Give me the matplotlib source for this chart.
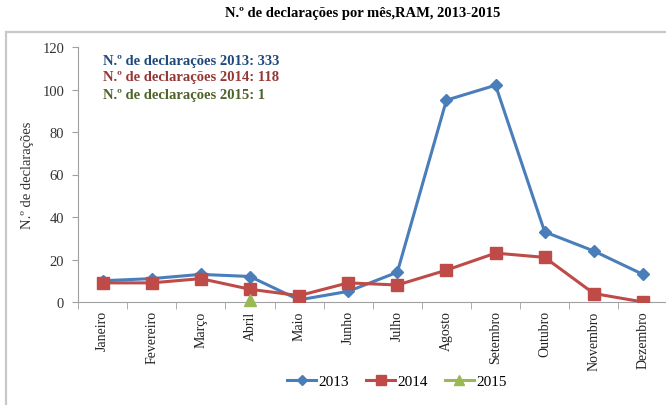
import matplotlib
matplotlib.use("Agg")
import matplotlib.pyplot as plt
from matplotlib.patches import Rectangle
from matplotlib.lines import Line2D
import numpy as np

months = ["Janeiro", "Fevereiro", "Março", "Abril", "Maio", "Junho", "Julho",
          "Agosto", "Setembro", "Outubro", "Novembro", "Dezembro"]
v2013 = [10, 11, 13, 12, 1, 5, 14, 95, 102, 33, 24, 13]
v2014 = [9, 9, 11, 6, 3, 9, 8, 15, 23, 21, 4, 0]
v2015_month = ["Abril"]
v2015 = [1]
yticks = [0, 20, 40, 60, 80, 100, 120]
title = "N.º de declarações por mês,RAM, 2013-2015"
ylabel = "N.º de declarações"
notes = ["N.º de declarações 2013: 333", "N.º de declarações 2014: 118", "N.º de declarações 2015: 1"]

plt.rcParams['font.family'] = ['Liberation Serif', 'DejaVu Serif']

W, H = 666, 406
fig = plt.figure(figsize=(W/100, H/100), dpi=100)

# outer chart frame
fig.patches.append(Rectangle((6/W, -0.1), 1.2, 1 - 33/H + 0.1, transform=fig.transFigure,
                             fill=False, edgecolor="#C8C8C8", lw=1.6))

left, right = 78/W, 667.5/W
bottom, top = 1 - 303/H, 1 - 48/H
ax = fig.add_axes([left, bottom, right - left, top - bottom])

x = np.arange(len(months))
c13, c14, c15 = "#4A7EBB", "#BE4B48", "#98B954"
ax.plot(x, v2013, color=c13, lw=2.2, marker="D", ms=6.5, mec=c13, mfc=c13, zorder=3)
ax.plot(x, v2014, color=c14, lw=2.2, marker="s", ms=8.5, mec=c14, mfc=c14, zorder=4)
x15 = [months.index(m) for m in v2015_month]
ax.plot(x15, v2015, color=c15, lw=2.2, marker="^", ms=8.5, mec=c15, mfc=c15, zorder=5, clip_on=False)

ax.set_xlim(-0.5, len(months) - 0.5)
ax.set_ylim(0, 120)
ax.set_yticks(yticks)
ax.set_yticklabels([str(t) for t in yticks], fontsize=10.5, color="#333333")
ax.set_xticks(x)
ax.set_xticklabels(months, rotation=90, fontsize=10, color="#222222", va="top")
ax.set_xticks(np.arange(-0.5, len(months), 1), minor=True)
ax.tick_params(axis="x", which="major", length=0, pad=6)
ax.tick_params(axis="x", which="minor", length=5, color="#A0A0A0", direction="out")
ax.tick_params(axis="y", length=4, color="#A0A0A0", direction="out", pad=6)

for s in ["top", "right"]:
    ax.spines[s].set_visible(False)
ax.spines["left"].set_color("#A0A0A0")
ax.spines["bottom"].set_color("#A0A0A0")
ax.patch.set_alpha(0)

fig.text(28/W, 1 - 175/H, ylabel, rotation=90, ha="center", va="center", fontsize=10.5, color="#333333")
fig.text(363/W, 1 - 14/H, title, ha="center", va="center", fontsize=10.5, fontweight="bold", color="black")

note_colors = ["#1F497D", "#953735", "#4F6228"]
for i, (t, c) in enumerate(zip(notes, note_colors)):
    fig.text(103/W, 1 - (61 + 17*i)/H, t, ha="left", va="center", fontsize=10.5,
             fontweight="bold", color=c)

handles = [Line2D([], [], color=c13, lw=2.2, marker="D", ms=5),
           Line2D([], [], color=c14, lw=2.2, marker="s", ms=7),
           Line2D([], [], color=c15, lw=2.2, marker="^", ms=7)]
fig.legend(handles, ["2013", "2014", "2015"], loc="center", bbox_to_anchor=(397/W, 1 - 382/H),
           ncol=3, frameon=False, fontsize=11, handlelength=1.9, handletextpad=0.15,
           columnspacing=1.1)

fig.savefig("out.png", dpi=100)
